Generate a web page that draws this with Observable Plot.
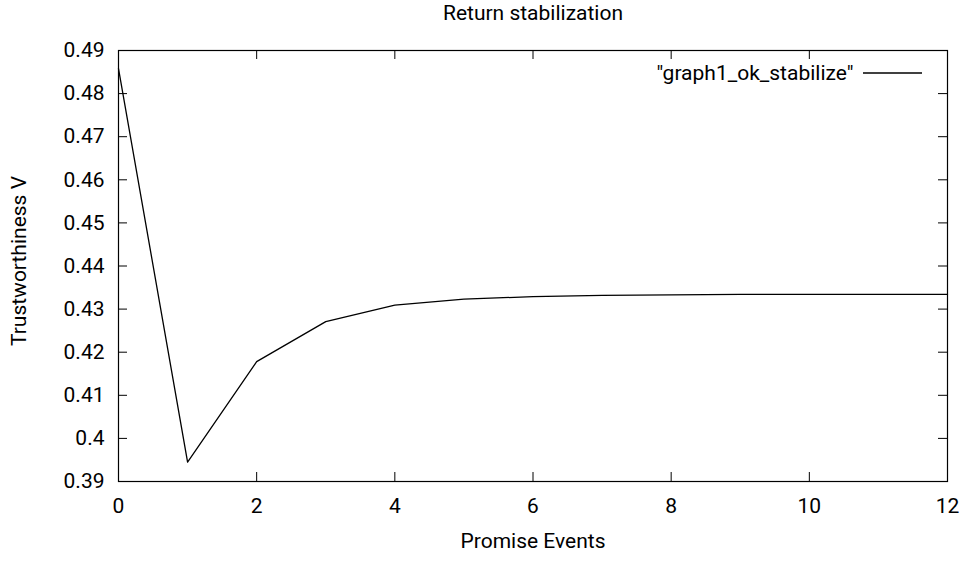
<!DOCTYPE html>
<html>
<head>
<meta charset="utf-8">
<script src="https://cdn.jsdelivr.net/npm/d3@7"></script>
<script src="https://cdn.jsdelivr.net/npm/@observablehq/plot@0.6"></script>
<style>
  html, body { margin: 0; padding: 0; background: #fff; }
  svg { font-family: Roboto, "DejaVu Sans", sans-serif; }
</style>
</head>
<body>
<div id="chart"></div>
<script>
const title = "Return stabilization";
const xLabel = "Promise Events";
const yLabel = "Trustworthiness V";
const seriesName = "\"graph1_ok_stabilize\"";

const events = [0, 1, 2, 3, 4, 5, 6, 7, 8, 9, 10, 11, 12];
const values = [0.4858, 0.3945, 0.4178, 0.4271, 0.4309, 0.4323, 0.4329, 0.4332, 0.4333, 0.4334, 0.4334, 0.4334, 0.4334];

const xTicks = [0, 2, 4, 6, 8, 10, 12];
const yTicks = [0.39, 0.4, 0.41, 0.42, 0.43, 0.44, 0.45, 0.46, 0.47, 0.48, 0.49];

const data = events.map((e, i) => ({x: e, y: values[i]}));

const W = 964, H = 561;
const mL = 118, mR = 17, mT = 50, mB = 80;
const pw = W - mL - mR, ph = H - mT - mB;
const tk = 9;
const fs = 21;

const chart = Plot.plot({
  width: W,
  height: H,
  marginLeft: mL,
  marginRight: mR,
  marginTop: mT,
  marginBottom: mB,
  style: {fontFamily: "Roboto, sans-serif", fontSize: fs + "px", background: "#fff", color: "#000"},
  x: {domain: [0, 12]},
  y: {domain: [0.39, 0.49]},
  marks: [
    Plot.axisX({ticks: xTicks, tickSize: 0, tickPadding: 17, fontSize: fs, tickFormat: d => String(d), label: null}),
    Plot.axisY({ticks: yTicks, tickSize: 0, tickPadding: 14, fontSize: fs, tickFormat: d => String(d), label: null}),
    Plot.tickX(xTicks, {x: d => d, stroke: "black", insetTop: ph - tk}),
    Plot.tickX(xTicks, {x: d => d, stroke: "black", insetBottom: ph - tk}),
    Plot.tickY(yTicks, {y: d => d, stroke: "black", insetRight: pw - tk}),
    Plot.tickY(yTicks, {y: d => d, stroke: "black", insetLeft: pw - tk}),
    Plot.frame({stroke: "black", strokeWidth: 1.2}),
    Plot.line(data, {x: "x", y: "y", stroke: "black", strokeWidth: 1.3}),
    Plot.text([title], {frameAnchor: "top", dy: -37, lineAnchor: "middle", fontSize: fs, fill: "black"}),
    Plot.text([xLabel], {frameAnchor: "bottom", dy: 60, lineAnchor: "middle", fontSize: fs, fill: "black"}),
    Plot.text([yLabel], {frameAnchor: "left", dx: -99, dy: -5, rotate: -90, textAnchor: "middle", lineAnchor: "middle", fontSize: fs, fill: "black"}),
    Plot.text([seriesName], {frameAnchor: "top-right", dx: -94, dy: 23, textAnchor: "end", lineAnchor: "middle", fontSize: fs, fill: "black"})
  ]
});

// legend sample line, positioned relative to the plot frame
const sxScale = chart.scale("x"), syScale = chart.scale("y");
const frameRight = sxScale.range[1], frameTop = syScale.range[1];
d3.select(chart).append("line")
  .attr("x1", frameRight - 84).attr("x2", frameRight - 25)
  .attr("y1", frameTop + 23).attr("y2", frameTop + 23)
  .attr("stroke", "black").attr("stroke-width", 1.3);

document.getElementById("chart").appendChild(chart);
</script>
</body>
</html>
